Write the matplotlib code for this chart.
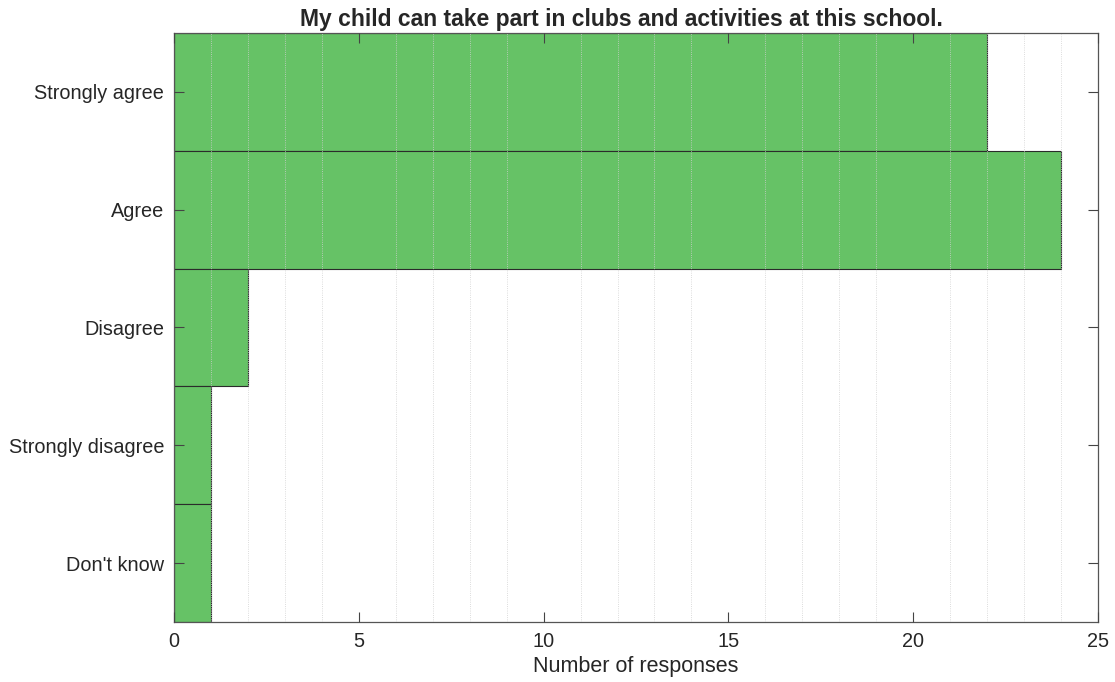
import numpy as np
import matplotlib
matplotlib.use('Agg')
from matplotlib import pyplot as plt
from matplotlib.ticker import MultipleLocator

plt.rcParams['font.family'] = ['Liberation Sans', 'DejaVu Sans']

categories = ['Strongly agree', 'Agree', 'Disagree', 'Strongly disagree', "Don't know"]
counts = [22, 24, 2, 1, 1]

title = 'My child can take part in clubs and activities at this school.'
xlabel = 'Number of responses'

fig = plt.figure(figsize=(11.15, 6.82), dpi=100)
ax = fig.add_axes([0.156, 0.088, 0.8288, 0.8636])

# bars stacked top to bottom, touching each other
ypos = np.arange(len(categories))[::-1]
ax.barh(ypos, counts, height=1.0, color='#66c266', edgecolor='#2b2b2b',
        linewidth=0.8, zorder=1)

ax.set_xlim(0, 25)
ax.set_ylim(-0.5, len(categories) - 0.5)
ax.set_yticks(ypos)
ax.set_yticklabels(categories)
ax.xaxis.set_major_locator(MultipleLocator(5))
ax.xaxis.set_minor_locator(MultipleLocator(1))

# faint dotted grid on the minor ticks, drawn over the bars
ax.set_axisbelow(False)
ax.grid(which='minor', axis='x', linestyle=':', color='#d0d0d0', linewidth=0.6, zorder=3)

ax.tick_params(which='major', direction='in', length=7, width=0.8, color='#444444',
               top=True, right=True, labelsize=14.3, labelcolor='#262626', pad=7)
ax.tick_params(which='minor', length=0, top=True)
for s in ax.spines.values():
    s.set_color('#555555')
    s.set_linewidth(0.9)

ax.set_title(title, fontsize=16.5, fontweight='bold', color='#262626', pad=5, x=0.484)
ax.set_xlabel(xlabel, fontsize=15.5, color='#262626', labelpad=4)

fig.savefig('out.png', dpi=100)
plt.close(fig)
